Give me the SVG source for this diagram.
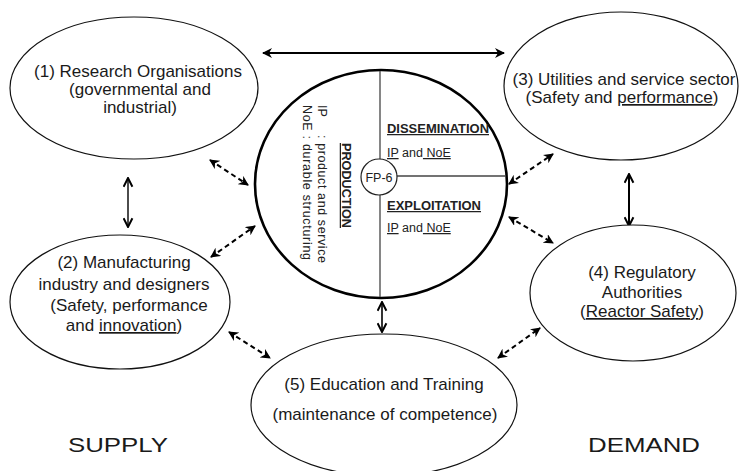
<svg xmlns="http://www.w3.org/2000/svg" width="739" height="471" viewBox="0 0 739 471">
<style>
.n{fill:#fff;stroke:#111;stroke-width:1.2}
.t{font-family:"Liberation Sans",Arial,sans-serif;font-size:17px;fill:#1a1a1a}
.c{text-anchor:middle}
.s{font-family:"Liberation Sans",Arial,sans-serif;font-size:12.5px;fill:#222}
.b{font-weight:bold}
.u{text-decoration:underline}
.d{fill:none;stroke:#000;stroke-width:2;stroke-dasharray:5 3.5}
.sol{fill:none;stroke:#000;stroke-width:2}
.in{stroke:#444;stroke-width:1.3;fill:none}
</style>
<defs>
<marker id="ah" viewBox="0 0 10 10" refX="9" refY="5" markerUnits="userSpaceOnUse" markerWidth="10" markerHeight="10" orient="auto-start-reverse">
<path d="M0,0 L10,5 L0,10 L3,5 z" fill="#000"/>
</marker>
<marker id="av" viewBox="0 0 10 10" refX="9" refY="5" markerUnits="userSpaceOnUse" markerWidth="11" markerHeight="11" orient="auto-start-reverse">
<path d="M1,1 L9,5 L1,9" fill="none" stroke="#000" stroke-width="1.8"/>
</marker>
</defs>
<rect width="739" height="471" fill="#fff"/>

<g id="connectors">
<line class="sol" x1="263" y1="53" x2="504" y2="53" marker-start="url(#ah)" marker-end="url(#ah)"/>
<line class="sol" style="stroke-width:1.4" x1="128" y1="178" x2="128" y2="227" marker-start="url(#av)" marker-end="url(#av)"/>
<line class="sol" x1="629" y1="174" x2="629" y2="226" marker-start="url(#av)" marker-end="url(#av)"/>
<line class="sol" style="stroke-width:1.6" x1="382" y1="302" x2="382" y2="332" marker-start="url(#av)" marker-end="url(#av)"/>
<line class="d" x1="210" y1="160" x2="248" y2="185" marker-start="url(#ah)" marker-end="url(#ah)"/>
<line class="d" x1="211" y1="257" x2="255" y2="226" marker-start="url(#ah)" marker-end="url(#ah)"/>
<line class="d" x1="509" y1="184" x2="553" y2="154" marker-start="url(#ah)" marker-end="url(#ah)"/>
<line class="d" x1="509" y1="217" x2="553" y2="243" marker-start="url(#ah)" marker-end="url(#ah)"/>
<line class="d" x1="229" y1="332" x2="270" y2="358" marker-start="url(#ah)" marker-end="url(#ah)"/>
<line class="d" x1="498" y1="358" x2="540" y2="328" marker-start="url(#ah)" marker-end="url(#ah)"/>
</g>

<g id="node1">
<ellipse class="n" cx="134" cy="88" rx="124" ry="71"/>
<text class="t c" x="138" y="77">(1) Research Organisations</text>
<text class="t c" x="140" y="95">(governmental and</text>
<text class="t c" x="140" y="113">industrial)</text>
</g>

<g id="node3">
<ellipse class="n" cx="621" cy="86" rx="117" ry="74"/>
<text class="t c" x="624" y="85">(3) Utilities and service sector</text>
<text class="t c" x="622" y="103">(Safety and <tspan class="u">performance</tspan>)</text>
</g>

<g id="node2">
<ellipse class="n" cx="120" cy="302" rx="110" ry="67"/>
<text class="t c" x="124" y="268">(2) Manufacturing</text>
<text class="t c" x="124" y="290">industry and designers</text>
<text class="t c" x="129" y="311">(Safety, performance</text>
<text class="t c" x="124" y="331">and <tspan class="u">innovation</tspan>)</text>
</g>

<g id="node4">
<ellipse class="n" cx="633" cy="293" rx="103" ry="68"/>
<text class="t c" x="642" y="278">(4) Regulatory</text>
<text class="t c" x="642" y="298">Authorities</text>
<text class="t c" x="642" y="317">(<tspan class="u">Reactor Safety</tspan>)</text>
</g>

<g id="node5">
<ellipse class="n" cx="384" cy="405" rx="133" ry="71"/>
<text class="t c" x="384" y="390">(5) Education and Training</text>
<text class="t c" x="385" y="420">(maintenance of competence)</text>
</g>

<g id="fp6">
<ellipse cx="381" cy="184" rx="126" ry="114" fill="#fff" stroke="#000" stroke-width="2.6"/>
<line class="in" x1="380" y1="71" x2="380" y2="159"/>
<line class="in" x1="380" y1="195" x2="380" y2="297"/>
<line class="in" x1="397" y1="176" x2="506" y2="176"/>
<circle cx="379" cy="177" r="18" fill="#fff" stroke="#222" stroke-width="1.2"/>
<text class="s c" x="379" y="181.5">FP-6</text>
<text class="s b u" x="387" y="133" textLength="102" lengthAdjust="spacingAndGlyphs">DISSEMINATION</text>
<text class="s" x="387" y="157"><tspan class="u">IP</tspan> and<tspan class="u"> NoE</tspan></text>
<text class="s b u" x="387" y="210" textLength="94" lengthAdjust="spacingAndGlyphs">EXPLOITATION</text>
<text class="s" x="387" y="232"><tspan class="u">IP</tspan> and<tspan class="u"> NoE</tspan></text>
<text class="s b u" transform="translate(342,143) rotate(90)" x="0" y="0" textLength="85" lengthAdjust="spacingAndGlyphs">PRODUCTION</text>
<g transform="translate(318,105) rotate(90)">
<text class="s" x="0" y="0">IP</text>
<text class="s" x="30" y="0" textLength="128" lengthAdjust="spacing">: product and service</text>
</g>
<g transform="translate(303,105) rotate(90)">
<text class="s" x="0" y="0" textLength="155" lengthAdjust="spacing">NoE : durable structuring</text>
</g>
</g>

<g id="labels">
<text class="t" x="68" y="452" style="font-size:21px" textLength="100" lengthAdjust="spacingAndGlyphs">SUPPLY</text>
<text class="t" x="588" y="452" style="font-size:21px" textLength="112" lengthAdjust="spacingAndGlyphs">DEMAND</text>
</g>
</svg>
